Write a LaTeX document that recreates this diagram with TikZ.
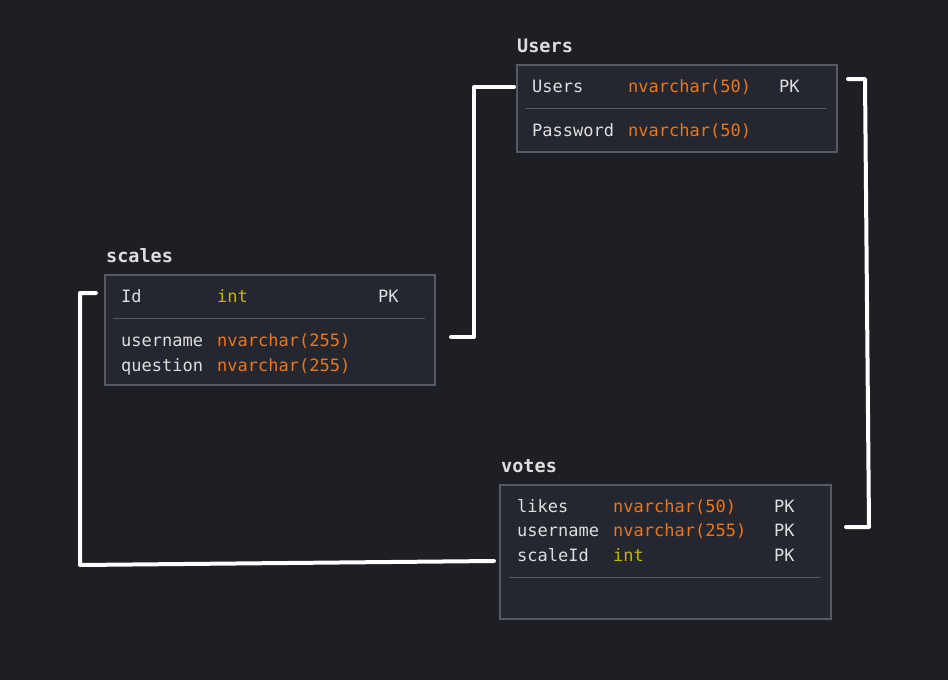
\documentclass[tikz,border=0pt]{standalone}
\usepackage{fontspec}
\setmonofont{DejaVu Sans Mono}
\definecolor{bgcol}{RGB}{30,31,36}
\definecolor{boxcol}{RGB}{36,39,47}
\definecolor{edgecol}{RGB}{86,90,100}
\definecolor{txtcol}{RGB}{222,222,222}
\definecolor{typecol}{RGB}{236,118,28}
\definecolor{intcol}{RGB}{200,180,0}
\tikzset{
  tbl/.style={draw=edgecol,fill=boxcol,line width=2.2pt,anchor=north west,inner sep=0pt},
  title/.style={anchor=base west,text=txtcol,inner sep=0pt,font=\ttfamily\bfseries\fontsize{18.5}{21}\selectfont},
  fld/.style={anchor=base west,text=txtcol,font=\ttfamily\fontsize{17}{20}\selectfont,inner sep=0pt},
  vtype/.style={fld,text=typecol},
  itype/.style={fld,text=intcol},
  sep/.style={draw=edgecol,line width=1pt},
  link/.style={draw=white,line width=4pt,line cap=round,line join=round}
}
\begin{document}
\begin{tikzpicture}[x=1pt,y=-1pt]
 \fill[bgcol] (0,0) rectangle (948,680);
 % Users
 \node[tbl,minimum width=320pt,minimum height=87pt] (users) at (516,64) {};
 \node[title] (usersT) at (517,52) {Users};
 \draw[sep] (526,108) -- (826,108);
 \node[fld] (uName) at (532,92) {Users};
 \node[vtype] (uType) at (628,92) {nvarchar(50)};
 \node[fld] (uKey) at (779,92) {PK};
 \node[fld] (pName) at (532,136) {Password};
 \node[vtype] (pType) at (628,136) {nvarchar(50)};
 % scales
 \node[tbl,minimum width=330pt,minimum height=110pt] (scales) at (104,274) {};
 \node[title] (scalesT) at (106,262) {scales};
 \draw[sep] (113,318) -- (425,318);
 \node[fld] (sId) at (121,302) {Id};
 \node[itype] (sIdType) at (217,302) {int};
 \node[fld] (sKey) at (378,302) {PK};
 \node[fld] (sUser) at (121,346) {username};
 \node[vtype] (sUserType) at (217,346) {nvarchar(255)};
 \node[fld] (sQuest) at (121,371) {question};
 \node[vtype] (sQuestType) at (217,371) {nvarchar(255)};
 % votes
 \node[tbl,minimum width=331pt,minimum height=134pt] (votes) at (499,484) {};
 \node[title] (votesT) at (501,472) {votes};
 \draw[sep] (509,577) -- (820,577);
 \node[fld] (vLikes) at (517,512) {likes};
 \node[vtype] (vLikesType) at (613,512) {nvarchar(50)};
 \node[fld] (vKey1) at (774,512) {PK};
 \node[fld] (vUser) at (517,536) {username};
 \node[vtype] (vUserType) at (613,536) {nvarchar(255)};
 \node[fld] (vKey2) at (774,536) {PK};
 \node[fld] (vScale) at (517,561) {scaleId};
 \node[itype] (vScaleType) at (613,561) {int};
 \node[fld] (vKey3) at (774,561) {PK};
 % links
 \coordinate (uIn) at (514,87);
 \coordinate (sOut) at (451,337);
 \coordinate (uOut) at (848,79);
 \coordinate (vOut) at (846,527);
 \coordinate (sIn) at (96,293);
 \coordinate (vIn) at (494,561);
 \draw[link] (uIn) -- ++(-40,0) |- (sOut);
 \draw[link] (uOut) -- ++(17,0) -- ++(4,448) -- (vOut);
 \draw[link] (sIn) -- ++(-16,0) -- ++(0,272) -- (vIn);
\end{tikzpicture}
\end{document}
